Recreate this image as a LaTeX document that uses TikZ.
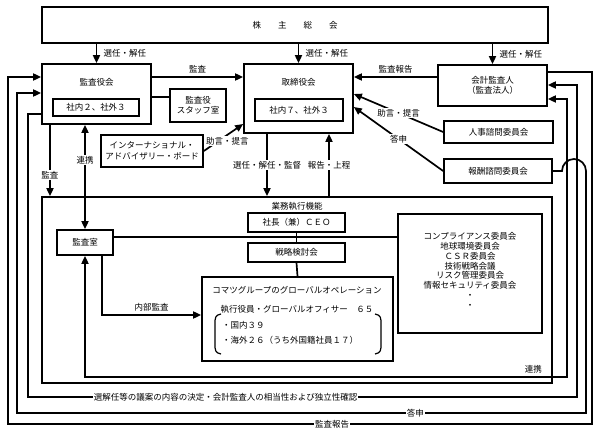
\documentclass[tikz,border=0pt]{standalone}
\usepackage{fontspec}
\setmainfont{Noto Sans CJK JP}
\usetikzlibrary{arrows.meta}
\tikzset{
  box/.style={draw, inner sep=0pt, align=center},
  lbl/.style={fill=white, inner sep=1pt},
}
\begin{document}
\begin{tikzpicture}[x=1pt,y=-1pt,line width=1.7pt,>={Triangle[length=8pt,width=7pt]},
    font=\fontsize{8.5}{10.5}\selectfont]
  \useasboundingbox (0,0) rectangle (600,438);
  \node[box,minimum width=506pt,minimum height=36pt] (kabu) at (295,25) {株　　主　　総　　会};
  \node[box,minimum width=109pt,minimum height=60pt] (kansa) at (96.5,94) {};
  \node (kansaT) at (96.5,82) {監査役会};
  \node[box,minimum width=86pt,minimum height=17pt] (kansaN) at (96,107.5) {社内２、社外３};
  \node[box,minimum width=56pt,minimum height=33pt] (staff) at (198,105.5) {監査役\\スタッフ室};
  \node[box,minimum width=109pt,minimum height=69pt] (tori) at (298.5,98.5) {};
  \node (toriT) at (298.5,82) {取締役会};
  \node[box,minimum width=88pt,minimum height=22pt] (toriN) at (299,110) {社内７、社外３};
  \node[box,minimum width=109pt,minimum height=41pt] (kaikei) at (492.5,85.5) {会計監査人\\（監査法人）};
  \node[box,minimum width=109pt,minimum height=22pt] (jinji) at (498.5,132) {人事諮問委員会};
  \node[box,minimum width=108pt,minimum height=24pt] (hoshu) at (498,171) {報酬諮問委員会};
  \node[box,minimum width=102pt,minimum height=32pt] (iab) at (152,151) {インターナショナル・\\アドバイザリー・ボード};
  \node[box,minimum width=510pt,minimum height=186pt] (gyomu) at (297,290) {};
  \node (gyomuT) at (297,206) {業務執行機能};
  \node[box,minimum width=97pt,minimum height=19pt] (ceo) at (296.5,222.5) {社長（兼）ＣＥＯ};
  \node[box,minimum width=97pt,minimum height=19pt] (senryaku) at (296.5,252.5) {戦略検討会};
  \node[box,minimum width=191pt,minimum height=84pt] (glob) at (297.5,319) {};
  \node (globT) at (297,290) {コマツグループのグローバルオペレーション};
  \node (yakuin) at (297,309) {執行役員・グローバルオフィサー　６５};
  \node[anchor=west] (kokunai) at (218,325) {・国内３９};
  \node[anchor=west] (kaigai) at (218,340) {・海外２６（うち外国籍社員１７）};
  \node[box,minimum width=56pt,minimum height=25pt] (shitsu) at (85,242.5) {監査室};
  \node[box,minimum width=144pt,minimum height=119pt] (iinkai) at (470,273.5) {};
  \node[align=center,font=\fontsize{8.5}{9.8}\selectfont] (iinT) at (470,270.5)
    {コンプライアンス委員会\\地球環境委員会\\ＣＳＲ委員会\\技術戦略会議\\リスク管理委員会\\情報セキュリティ委員会\\・\\・};
  \draw[line width=1.2pt] (221,314) .. controls (215,315) and (215,318) .. (215,324) -- (215,344)
    .. controls (215,350) and (215,353) .. (221,354);
  \draw[line width=1.2pt] (375,314) .. controls (381,315) and (381,318) .. (381,324) -- (381,344)
    .. controls (381,350) and (381,353) .. (375,354);
  \draw[->] (kansa.north |- kabu.south) -- node[right,xshift=3pt] {選任・解任} (kansa.north);
  \draw[->] (tori.north |- kabu.south) -- node[right,xshift=3pt] {選任・解任} (tori.north);
  \draw[->] (kaikei.north |- kabu.south) -- node[right,xshift=3pt] {選任・解任} (kaikei.north);
  \draw[->] (kansa.east |- 0,77) -- node[above] {監査} (tori.west |- 0,77);
  \draw (kansa.east |- 0,97) -- (staff.west |- 0,97);
  \draw[->] (kaikei.west |- 0,77) -- node[above] {監査報告} (tori.east |- 0,77);
  \draw[->] (jinji.west) -- node[lbl] {助言・提言} (tori.east |- 0,94);
  \draw[->] (hoshu.west) -- node[lbl] {答申} (tori.east |- 0,107);
  \draw[->] (iab.east) -- node[lbl,pos=0.6,yshift=-6pt] {助言・提言} (tori.west |- 0,124);
  \draw[->] (tori.south -| 267,0) -- node[lbl] {選任・解任・監督} (gyomu.north -| 267,0);
  \draw[->] (gyomu.north -| 329,0) -- node[lbl] {報告・上程} (tori.south -| 329,0);
  \draw[->] (kansa.south -| 50,0) -- node[lbl,pos=0.7] {監査} (gyomu.north -| 50,0);
  \draw[<->] (kansa.south -| shitsu.north) -- node[lbl,pos=0.34] {連携} (shitsu.north);
  \draw (ceo.south) -- (senryaku.north);
  \draw (senryaku.south) -- (glob.north);
  \draw (shitsu.east |- 0,237) -- (iinkai.west |- 0,237);
  \draw[->] (shitsu.south -| 102,0) -- (102,315) -- node[above] {内部監査} (glob.west |- 0,315);
  \draw[<->] (shitsu.south) -- (85,377) -- node[above,pos=0.93] {連携} (567,377) -- (567,99) -- (kaikei.east |- 0,99);
  \draw[->] (kansa.west |- 0,114) -- (28,114) -- (28,397)
    -- node[lbl,pos=0.36] {選解任等の議案の内容の決定・会計監査人の相当性および独立性確認} (577,397)
    -- (577,85) -- (kaikei.east |- 0,85);
  \draw[->] (hoshu.east) -- (562,171) arc[start angle=180,end angle=0,radius=12pt] -- (586,413)
    -- node[lbl,pos=0.3] {答申} (17,413) -- (17,93) -- (kansa.west |- 0,93);
  \draw[->] (kaikei.east |- 0,72) -- (592,72) -- (592,424)
    -- node[lbl,pos=0.445] {監査報告} (8,424) -- (8,77) -- (kansa.west |- 0,77);
\end{tikzpicture}
\end{document}
